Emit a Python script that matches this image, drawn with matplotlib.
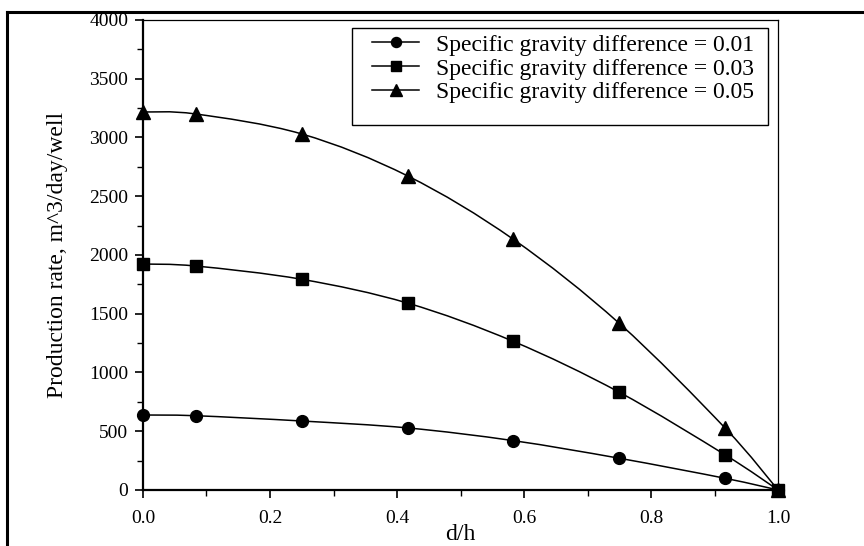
import numpy as np
import matplotlib
matplotlib.use("Agg")
import matplotlib.pyplot as plt
from matplotlib.path import Path
from matplotlib.patches import PathPatch, Rectangle
from matplotlib.lines import Line2D
from matplotlib.ticker import MultipleLocator, FormatStrFormatter

# Datos
d_h = [0.0, 0.083, 0.25, 0.417, 0.583, 0.75, 0.917, 1.0]
sg_001 = [638, 632, 587, 528, 420, 270, 99, 0]
sg_003 = [1923, 1906, 1793, 1590, 1265, 832, 298, 0]
sg_005 = [3217, 3200, 3030, 2672, 2134, 1418, 525, 0]
labels = ["Specific gravity difference = 0.01",
          "Specific gravity difference = 0.03",
          "Specific gravity difference = 0.05"]
markers = ["o", "s", "^"]
msizes = [8.5, 8.5, 10]

plt.rcParams["font.family"] = ["Liberation Serif", "DejaVu Serif"]


def smooth_path(x, y):
    # curva suave (Catmull-Rom) que pasa por los puntos medidos
    x = np.asarray(x, float)
    y = np.asarray(y, float)
    verts = [(x[0], y[0])]
    codes = [Path.MOVETO]
    n = len(x)
    for i in range(n - 1):
        i0 = max(i - 1, 0)
        i3 = min(i + 2, n - 1)
        c1 = (x[i] + (x[i + 1] - x[i0]) / 6, y[i] + (y[i + 1] - y[i0]) / 6)
        c2 = (x[i + 1] - (x[i3] - x[i]) / 6, y[i + 1] - (y[i3] - y[i]) / 6)
        verts += [c1, c2, (x[i + 1], y[i + 1])]
        codes += [Path.CURVE4] * 3
    return Path(verts, codes)


fig = plt.figure(figsize=(8.64, 5.46), dpi=100)
ax = fig.add_axes([0.1655, 0.1026, 0.7350, 0.8608])

handles = []
for ys, lab, mk, ms in zip([sg_001, sg_003, sg_005], labels, markers, msizes):
    ax.add_patch(PathPatch(smooth_path(d_h, ys), fill=False, edgecolor="black",
                           linewidth=1.1, clip_on=False))
    ax.plot(d_h, ys, linestyle="none", marker=mk, markersize=ms, color="black",
            clip_on=False, zorder=3)
    handles.append(Line2D([], [], color="black", linewidth=1.1, marker=mk,
                          markersize=ms * 0.85, label=lab))

ax.set_xlim(0, 1.0)
ax.set_ylim(0, 4000)
ax.xaxis.set_major_locator(MultipleLocator(0.2))
ax.xaxis.set_minor_locator(MultipleLocator(0.1))
ax.xaxis.set_major_formatter(FormatStrFormatter("%.1f"))
ax.yaxis.set_major_locator(MultipleLocator(500))
ax.yaxis.set_minor_locator(MultipleLocator(250))

ax.spines["left"].set_linewidth(1.6)
ax.spines["bottom"].set_linewidth(1.6)
ax.spines["top"].set_linewidth(0.9)
ax.spines["right"].set_linewidth(0.9)

ax.tick_params(which="major", direction="out", length=5.5, width=1.2,
               labelsize=14, top=False, right=False)
ax.tick_params(which="minor", direction="out", length=4, width=1.0,
               top=False, right=False)
ax.tick_params(axis="x", which="major", pad=9)
ax.tick_params(axis="y", which="major", pad=5)

ax.set_xlabel("d/h", fontsize=17, labelpad=-2.5)
ax.set_ylabel("Production rate, m^3/day/well", fontsize=17, labelpad=15)

# caja de la leyenda (con espacio extra abajo, como el original)
ax.add_patch(Rectangle((0.329, 0.7766), 0.655, 0.2064, transform=ax.transAxes,
                       facecolor="white", edgecolor="black", linewidth=1.0,
                       zorder=4))
leg = ax.legend(handles=handles, loc="upper left", bbox_to_anchor=(0.3606, 0.97),
                borderaxespad=0, borderpad=0, fontsize=17, frameon=False,
                handlelength=2.0, handletextpad=0.7, labelspacing=0.1)
leg.set_zorder(5)

# marco exterior de la figura (arriba e izquierda)
fig.add_artist(Line2D([7 / 864, 7 / 864], [0, 1 - 12 / 546], color="black",
                      linewidth=2.2, transform=fig.transFigure))
fig.add_artist(Line2D([7 / 864, 1], [1 - 12 / 546, 1 - 12 / 546], color="black",
                      linewidth=2.2, transform=fig.transFigure))

fig.savefig("out.png", dpi=100)
